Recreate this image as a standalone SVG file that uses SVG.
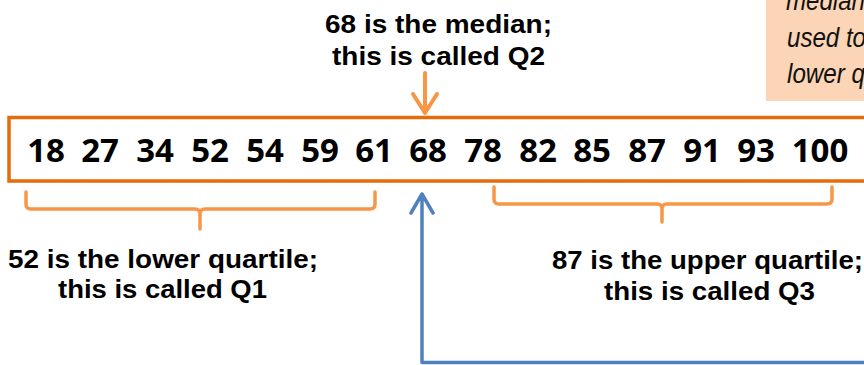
<svg xmlns="http://www.w3.org/2000/svg" width="864" height="365" viewBox="0 0 864 365">
<style>
.num{font-family:"Open Sans","Liberation Sans",sans-serif;font-weight:700;font-size:33px;fill:#000;text-anchor:middle}
.lbl{font-family:"Liberation Sans",Arial,sans-serif;font-weight:700;font-size:26px;fill:#000}
.note{font-family:"Liberation Sans",Arial,sans-serif;font-style:italic;font-size:28px;fill:#111}
.brace{fill:none;stroke:#F79646;stroke-width:3.5;stroke-linecap:round;stroke-linejoin:round}
.oarr{fill:none;stroke:#F79646;stroke-width:4;stroke-linecap:round;stroke-linejoin:round}
.barr{fill:none;stroke:#4F81BD;stroke-width:3.5;stroke-linecap:round;stroke-linejoin:round}
</style>
<rect width="864" height="365" fill="#fff"/>
<g id="note">
<rect x="766" y="0" width="100" height="101" fill="#FBD5B5"/>
<text class="note" x="786" y="10" textLength="79" lengthAdjust="spacingAndGlyphs">median</text>
<text class="note" x="787" y="47" textLength="79" lengthAdjust="spacingAndGlyphs">used to</text>
<text class="note" x="787" y="83" textLength="78" lengthAdjust="spacingAndGlyphs">lower q</text>
</g>
<g id="median-label">
<text class="lbl" x="325" y="33" textLength="227" lengthAdjust="spacingAndGlyphs">68 is the median;</text>
<text class="lbl" x="332" y="65" textLength="213" lengthAdjust="spacingAndGlyphs">this is called Q2</text>
</g>
<g id="data">
<rect x="9" y="117.5" width="870" height="63.5" fill="none" stroke="#E46C0A" stroke-width="3.5"/>
<text class="num" x="46" y="162">18</text>
<text class="num" x="100" y="162">27</text>
<text class="num" x="155" y="162">34</text>
<text class="num" x="210" y="162">52</text>
<text class="num" x="265" y="162">54</text>
<text class="num" x="320" y="162">59</text>
<text class="num" x="374" y="162">61</text>
<text class="num" x="428" y="162">68</text>
<text class="num" x="483" y="162">78</text>
<text class="num" x="538" y="162">82</text>
<text class="num" x="592" y="162">85</text>
<text class="num" x="647" y="162">87</text>
<text class="num" x="702" y="162">91</text>
<text class="num" x="756" y="162">93</text>
<text class="num" x="820" y="162">100</text>
</g>
<g id="q1-label">
<text class="lbl" x="8" y="268" textLength="310" lengthAdjust="spacingAndGlyphs">52 is the lower quartile;</text>
<text class="lbl" x="58" y="298" textLength="209" lengthAdjust="spacingAndGlyphs">this is called Q1</text>
</g>
<g id="q3-label">
<text class="lbl" x="552" y="269" textLength="311" lengthAdjust="spacingAndGlyphs">87 is the upper quartile;</text>
<text class="lbl" x="604" y="300" textLength="211" lengthAdjust="spacingAndGlyphs">this is called Q3</text>
</g>
<g id="connectors">
<path class="oarr" d="M425 73 V113 M413 94 L425 113 L437 94"/>
<path class="brace" d="M26 192 V204 Q26 209 31 209 H195 Q200 209 200 214 V229 M200 214 Q200 209 205 209 H370 Q375 209 375 204 V192"/>
<path class="brace" d="M494 187 V199 Q494 204 499 204 H657 Q662 204 662 209 V222 M662 209 Q662 204 667 204 H827 Q832 204 832 199 V187"/>
<path class="barr" d="M866 362.5 H422 V194 M411 213 L422 194 L433 213"/>
</g>
</svg>
